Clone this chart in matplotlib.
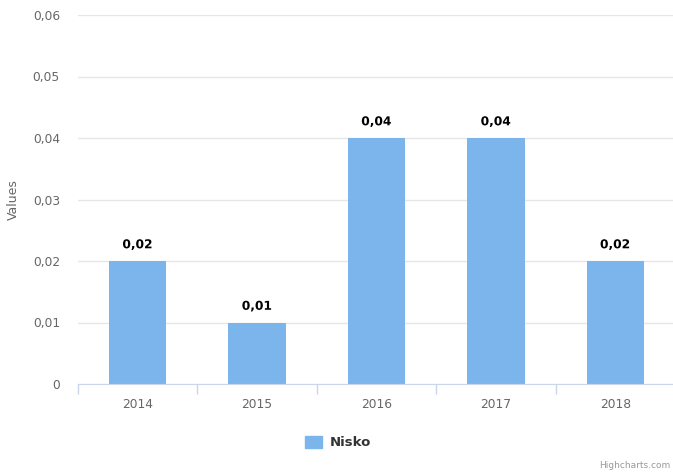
import matplotlib.pyplot as plt
import matplotlib.patheffects as pe
from matplotlib.patches import Rectangle

# data
years = ['2014', '2015', '2016', '2017', '2018']
values = [0.02, 0.01, 0.04, 0.04, 0.02]
yticks = [0, 0.01, 0.02, 0.03, 0.04, 0.05, 0.06]

bar_color = '#7cb5ec'
grid_color = '#e6e6e6'
axis_color = '#ccd6eb'
text_color = '#666666'

plt.rcParams['font.family'] = ['DejaVu Sans']

fig = plt.figure(figsize=(6.73, 4.74), dpi=100)
ax = fig.add_axes([78 / 673, 90 / 474, 597 / 673, 369 / 474])

x = list(range(len(years)))
bars = ax.bar(x, values, width=0.48, color=bar_color, zorder=3)

for xi, v in zip(x, values):
    ax.annotate(f'{v:.2f}'.replace('.', ','), (xi, v), xytext=(0, 7),
                textcoords='offset points', ha='center', va='bottom',
                fontsize=8.8, fontweight='bold', color='#000000',
                path_effects=[pe.withStroke(linewidth=2, foreground='white')])

ax.set_xlim(-0.5, len(years) - 0.5)
ax.set_ylim(0, 0.06)
ax.set_yticks(yticks)
ax.set_yticklabels(['0'] + [f'{t:.2f}'.replace('.', ',') for t in yticks[1:]])
ax.set_xticks(x)
ax.set_xticklabels(years)
ax.set_xticks([i - 0.5 for i in range(len(years) + 1)], minor=True)

ax.grid(axis='y', color=grid_color, linewidth=1, zorder=0)
for s in ['top', 'right', 'left']:
    ax.spines[s].set_visible(False)
ax.spines['bottom'].set_color(axis_color)
ax.spines['bottom'].set_zorder(4)

ax.tick_params(axis='y', length=0, pad=13, labelsize=8.8, labelcolor=text_color)
ax.tick_params(axis='x', which='major', length=0, pad=10, labelsize=8.8, labelcolor=text_color)
ax.tick_params(axis='x', which='minor', length=7, width=1, color=axis_color)

ax.set_ylabel('Values', fontsize=9, color=text_color)
ax.yaxis.set_label_coords(-58 / 597, 0.5)

# legend
fig.patches.append(Rectangle((305 / 673, (474 - 448) / 474), 17 / 673, 12 / 474,
                             transform=fig.transFigure, color=bar_color))
fig.text(330 / 673, (474 - 442) / 474, 'Nisko', fontsize=9.5, fontweight='bold',
         color='#333333', va='center', ha='left')

fig.text(670 / 673, (474 - 466) / 474, 'Highcharts.com', fontsize=6.5,
         color='#999999', va='center', ha='right')

fig.savefig('out.png', dpi=100)
